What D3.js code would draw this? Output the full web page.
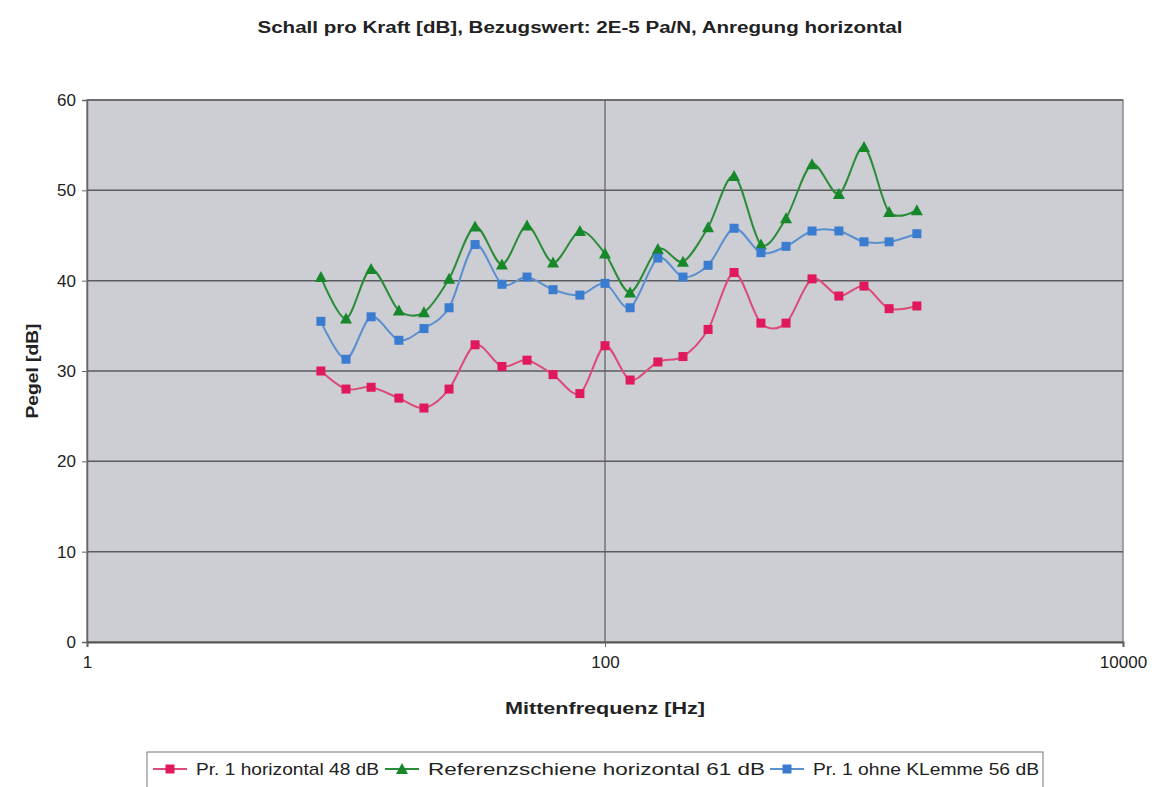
<!DOCTYPE html>
<html>
<head>
<meta charset="utf-8">
<script src="https://cdn.jsdelivr.net/npm/d3@7"></script>
<style>
  body { margin: 0; background: #fff; }
  text { font-family: "Liberation Sans", Arial, sans-serif; fill: #222; }
</style>
</head>
<body>
<div id="chart"></div>
<script>
// Terzmittenfrequenzen [Hz]
const freqs = [8, 10, 12.5, 16, 20, 25, 31.5, 40, 50, 63, 80, 100, 125, 160, 200, 250, 315, 400, 500, 630, 800, 1000, 1250, 1600];
// Pr. 1 horizontal 48 dB
const prHorizontal = [30.0, 28.0, 28.2, 27.0, 25.9, 28.0, 32.9, 30.5, 31.2, 29.6, 27.5, 32.8, 29.0, 31.0, 31.6, 34.6, 40.9, 35.3, 35.3, 40.2, 38.3, 39.4, 36.9, 37.2];
// Referenzschiene horizontal 61 dB
const referenz = [40.4, 35.8, 41.3, 36.7, 36.5, 40.2, 46.0, 41.8, 46.1, 42.0, 45.5, 43.0, 38.7, 43.5, 42.1, 45.9, 51.6, 44.0, 46.9, 52.9, 49.6, 54.8, 47.6, 47.8];
// Pr. 1 ohne KLemme 56 dB
const ohneKlemme = [35.5, 31.3, 36.0, 33.4, 34.7, 37.0, 44.0, 39.6, 40.4, 39.0, 38.4, 39.7, 37.0, 42.5, 40.4, 41.7, 45.8, 43.1, 43.8, 45.5, 45.5, 44.3, 44.3, 45.2];

const yTicks = [0, 10, 20, 30, 40, 50, 60];
const xTicks = [1, 100, 10000];

const series = [
  { name: "Pr. 1 horizontal 48 dB", values: prHorizontal, line: "#dc4a78", fill: "#e0185c", shape: "square" },
  { name: "Referenzschiene horizontal 61 dB", values: referenz, line: "#2a8c38", fill: "#17882a", shape: "triangle" },
  { name: "Pr. 1 ohne KLemme 56 dB", values: ohneKlemme, line: "#5a8fd0", fill: "#3a7dd0", shape: "square" }
];

const width = 1154, height = 787;
const plot = { left: 87, right: 1123, top: 100, bottom: 642 };

const svg = d3.select("#chart").append("svg")
  .attr("width", width)
  .attr("height", height);

const x = d3.scaleLog().domain([1, 10000]).range([plot.left, plot.right]);
const y = d3.scaleLinear().domain([0, 60]).range([plot.bottom, plot.top]);

// Plotfläche
svg.append("rect")
  .attr("x", plot.left).attr("y", plot.top)
  .attr("width", plot.right - plot.left).attr("height", plot.bottom - plot.top)
  .attr("fill", "#cdcdd4")
  .attr("stroke", "#8a8a8e")
  .attr("stroke-width", 1.5);

// Gitternetz
svg.append("g").selectAll("line")
  .data(yTicks.filter(d => d > 0))
  .enter().append("line")
  .attr("x1", plot.left).attr("x2", plot.right)
  .attr("y1", d => y(d)).attr("y2", d => y(d))
  .attr("stroke", "#5c5c60").attr("stroke-width", 1.5);

svg.append("line")
  .attr("x1", x(100)).attr("x2", x(100))
  .attr("y1", plot.top).attr("y2", plot.bottom)
  .attr("stroke", "#5c5c60").attr("stroke-width", 1.2);

// Achsen
const yAxis = d3.axisLeft(y).tickValues(yTicks).tickSize(5).tickPadding(6);
const gy = svg.append("g").attr("transform", `translate(${plot.left},0)`).call(yAxis);
gy.select(".domain").attr("stroke", "#666").attr("stroke-width", 1.5);
gy.selectAll(".tick line").attr("stroke", "#666");
gy.selectAll(".tick text").style("font-size", "17px").attr("fill", "#333");

const xAxis = d3.axisBottom(x).tickValues(xTicks).tickFormat(d3.format("d")).tickSize(5).tickPadding(9);
const gx = svg.append("g").attr("transform", `translate(0,${plot.bottom})`).call(xAxis);
gx.select(".domain").attr("stroke", "#555").attr("stroke-width", 2);
gx.selectAll(".tick line").attr("stroke", "#666");
gx.selectAll(".tick text").style("font-size", "17px").attr("fill", "#333");

// Titel
svg.append("text")
  .attr("x", 580).attr("y", 33)
  .attr("text-anchor", "middle")
  .style("font-size", "16px").style("font-weight", "bold")
  .attr("textLength", 645).attr("lengthAdjust", "spacingAndGlyphs")
  .text("Schall pro Kraft [dB], Bezugswert: 2E-5 Pa/N, Anregung horizontal");

svg.append("text")
  .attr("x", 605).attr("y", 714)
  .attr("text-anchor", "middle")
  .style("font-size", "17px").style("font-weight", "bold")
  .attr("textLength", 200).attr("lengthAdjust", "spacingAndGlyphs")
  .text("Mittenfrequenz [Hz]");

svg.append("text")
  .attr("transform", `translate(38,${(plot.top + plot.bottom) / 2}) rotate(-90)`)
  .attr("text-anchor", "middle")
  .style("font-size", "16px").style("font-weight", "bold")
  .attr("textLength", 95).attr("lengthAdjust", "spacingAndGlyphs")
  .text("Pegel [dB]");

// Kurven
const line = d3.line()
  .x((d, i) => x(freqs[i]))
  .y(d => y(d))
  .curve(d3.curveCardinal.tension(0.1));

function marker(g, shape, fill, cx, cy) {
  if (shape === "triangle") {
    g.append("path")
      .attr("d", `M${cx},${cy - 6}L${cx + 6},${cy + 5}L${cx - 6},${cy + 5}Z`)
      .attr("fill", fill);
  } else {
    g.append("rect")
      .attr("x", cx - 4.5).attr("y", cy - 4.5)
      .attr("width", 9).attr("height", 9)
      .attr("fill", fill);
  }
}

series.forEach(s => {
  const g = svg.append("g");
  g.append("path")
    .attr("d", line(s.values))
    .attr("fill", "none")
    .attr("stroke", s.line)
    .attr("stroke-width", 2);
  s.values.forEach((v, i) => marker(g, s.shape, s.fill, x(freqs[i]), y(v)));
});

// Legende
const legend = svg.append("g");
legend.append("rect")
  .attr("x", 147).attr("y", 752)
  .attr("width", 896).attr("height", 45)
  .attr("fill", "#fff")
  .attr("stroke", "#777").attr("stroke-width", 1);

const legendX = [153, 385, 770];
const legendLen = [183, 337, 226];
series.forEach((s, i) => {
  const lx = legendX[i], ly = 769;
  legend.append("line")
    .attr("x1", lx).attr("x2", lx + 34)
    .attr("y1", ly).attr("y2", ly)
    .attr("stroke", s.line).attr("stroke-width", 2);
  marker(legend, s.shape, s.fill, lx + 17, ly);
  legend.append("text")
    .attr("x", lx + 43).attr("y", ly + 6)
    .style("font-size", "17px")
    .attr("textLength", legendLen[i]).attr("lengthAdjust", "spacingAndGlyphs")
    .text(s.name);
});
</script>
</body>
</html>
